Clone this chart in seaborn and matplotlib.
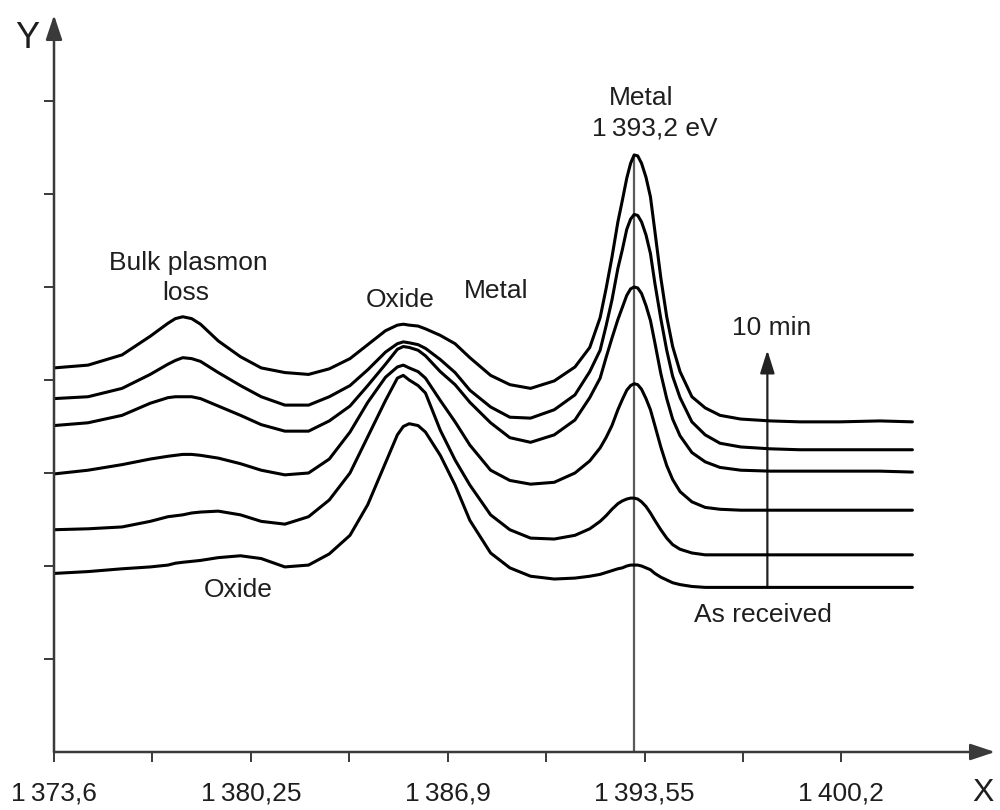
import matplotlib
matplotlib.use("Agg")
import matplotlib.pyplot as plt
import pandas as pd
import seaborn as sns

# Binding energy grid (eV) shared by all scans
energy = [1373.6, 1374.75, 1375.9, 1376.85, 1377.45, 1377.7, 1377.95, 1378.25, 1378.55, 1379.15,
          1379.9, 1380.6, 1381.4, 1382.2, 1382.9, 1383.6, 1384.2, 1384.8, 1385.2, 1385.4,
          1385.6, 1385.9, 1386.15, 1386.65, 1387.15, 1387.65, 1388.35, 1389.0, 1389.7, 1390.5,
          1391.2, 1391.7, 1392.05, 1392.25, 1392.45, 1392.65, 1392.8, 1392.95, 1393.08, 1393.2,
          1393.32, 1393.45, 1393.6, 1393.75, 1393.9, 1394.1, 1394.3, 1394.5, 1394.75, 1395.15,
          1395.6, 1396.1, 1396.8, 1397.8, 1398.8, 1400.15, 1401.5, 1402.6]

# Intensities (a.u., offset stack), from the 10 min sputtered scan down to the as-received one
scan_10min = [4.13, 4.16, 4.27, 4.47, 4.61, 4.66, 4.68, 4.66, 4.60, 4.42,
              4.25, 4.13, 4.08, 4.06, 4.12, 4.23, 4.38, 4.53, 4.59, 4.60,
              4.59, 4.58, 4.55, 4.48, 4.39, 4.24, 4.05, 3.95, 3.91, 3.99,
              4.14, 4.35, 4.67, 4.98, 5.32, 5.70, 5.93, 6.17, 6.33, 6.42,
              6.41, 6.33, 6.18, 5.97, 5.60, 5.10, 4.68, 4.36, 4.09, 3.82,
              3.70, 3.62, 3.58, 3.56, 3.55, 3.55, 3.56, 3.55]
scan_b = [3.80, 3.82, 3.91, 4.06, 4.17, 4.21, 4.24, 4.23, 4.20, 4.08,
          3.94, 3.82, 3.73, 3.73, 3.82, 3.94, 4.11, 4.30, 4.39, 4.41,
          4.40, 4.38, 4.34, 4.22, 4.08, 3.89, 3.71, 3.60, 3.59, 3.68,
          3.84, 4.09, 4.32, 4.58, 4.86, 5.20, 5.40, 5.62, 5.73, 5.78,
          5.77, 5.70, 5.56, 5.36, 5.04, 4.66, 4.32, 4.04, 3.81, 3.55,
          3.41, 3.32, 3.28, 3.26, 3.25, 3.25, 3.25, 3.25]
scan_c = [3.51, 3.54, 3.62, 3.75, 3.81, 3.82, 3.82, 3.82, 3.80, 3.72,
          3.62, 3.52, 3.45, 3.45, 3.56, 3.72, 3.94, 4.17, 4.33, 4.36,
          4.35, 4.32, 4.26, 4.09, 3.95, 3.76, 3.54, 3.38, 3.33, 3.41,
          3.57, 3.81, 4.02, 4.24, 4.45, 4.65, 4.78, 4.91, 4.98, 5.00,
          4.99, 4.93, 4.80, 4.64, 4.40, 4.07, 3.80, 3.58, 3.40, 3.22,
          3.12, 3.06, 3.03, 3.02, 3.02, 3.02, 3.02, 3.01]
scan_d = [2.99, 3.03, 3.09, 3.15, 3.18, 3.19, 3.20, 3.20, 3.19, 3.16,
          3.10, 3.03, 2.98, 3.00, 3.15, 3.44, 3.76, 4.03, 4.14, 4.16,
          4.13, 4.09, 4.02, 3.78, 3.55, 3.30, 3.03, 2.92, 2.88, 2.90,
          3.00, 3.13, 3.27, 3.38, 3.51, 3.68, 3.79, 3.89, 3.94, 3.96,
          3.95, 3.90, 3.80, 3.68, 3.51, 3.28, 3.08, 2.93, 2.80, 2.69,
          2.63, 2.61, 2.60, 2.60, 2.60, 2.60, 2.60, 2.60]
scan_e = [2.39, 2.40, 2.42, 2.48, 2.53, 2.54, 2.55, 2.57, 2.58, 2.59,
          2.55, 2.48, 2.45, 2.53, 2.71, 3.00, 3.39, 3.78, 4.02, 4.05,
          4.00, 3.94, 3.86, 3.46, 3.14, 2.87, 2.55, 2.39, 2.30, 2.29,
          2.33, 2.40, 2.48, 2.54, 2.61, 2.67, 2.70, 2.72, 2.73, 2.73,
          2.72, 2.69, 2.64, 2.57, 2.49, 2.39, 2.30, 2.23, 2.18, 2.14,
          2.12, 2.12, 2.12, 2.12, 2.12, 2.12, 2.12, 2.12]
scan_as_received = [1.92, 1.94, 1.97, 1.99, 2.01, 2.03, 2.04, 2.05, 2.06, 2.09,
                    2.11, 2.08, 1.99, 2.01, 2.13, 2.33, 2.66, 3.11, 3.41, 3.50,
                    3.53, 3.51, 3.44, 3.19, 2.87, 2.49, 2.14, 1.98, 1.89, 1.86,
                    1.87, 1.89, 1.91, 1.93, 1.95, 1.97, 1.98, 2.00, 2.01, 2.01,
                    2.01, 2.00, 1.98, 1.96, 1.92, 1.88, 1.85, 1.82, 1.80, 1.78,
                    1.77, 1.77, 1.77, 1.77, 1.77, 1.77, 1.77, 1.77]

scans = {"10 min": scan_10min, "b": scan_b, "c": scan_c, "d": scan_d,
         "e": scan_e, "as received": scan_as_received}

major_ticks = [1373.6, 1380.25, 1386.9, 1393.55, 1400.2]
major_labels = ["1\u2009373,6", "1\u2009380,25", "1\u2009386,9", "1\u2009393,55", "1\u2009400,2"]
minor_ticks = [1376.925, 1383.575, 1390.225, 1396.875]
y_ticks = [1, 2, 3, 4, 5, 6, 7]

metal_peak = 1393.2
arrow_x = 1397.7
arrow_top = 4.32

df = pd.concat([pd.DataFrame({"energy": energy, "intensity": v, "scan": k})
                for k, v in scans.items()], ignore_index=True)

sns.set_theme(style="white")
plt.rcParams["font.family"] = ["Liberation Sans", "DejaVu Sans"]

W, H = 1000, 810
fig = plt.figure(figsize=(W / 100, H / 100), dpi=100)
ax = fig.add_axes([54 / W, 58 / H, 941 / W, 737 / H])

axis_col = "#3a3a3a"
text_col = "#1e1e1e"

# reference line through the metal peak
ax.plot([metal_peak, metal_peak], [0, max(scan_10min)], color="#5a5a5a", lw=1.6, zorder=1)

sns.lineplot(data=df, x="energy", y="intensity", units="scan", estimator=None,
             sort=False, color="black", lw=2.2, legend=False, ax=ax, zorder=3)
for ln in ax.get_lines():
    ln.set_solid_joinstyle("round")

ax.set_xlim(1373.6, 1373.6 + 941 / 29.6)
ax.set_ylim(0, 737 / 93)
for s in ax.spines.values():
    s.set_visible(False)

ax.set_xticks(major_ticks)
ax.set_xticklabels(major_labels)
ax.set_xticks(minor_ticks, minor=True)
ax.set_yticks(y_ticks)
ax.set_yticklabels([])
ax.tick_params(axis="x", which="both", direction="out", length=7, width=1.4,
               color=axis_col, bottom=True, labelsize=19, labelcolor=text_col, pad=14)
ax.tick_params(axis="y", which="both", direction="out", length=7, width=1.4,
               color=axis_col, left=True)
ax.set_xlabel("")
ax.set_ylabel("")

# axis lines with arrow heads
arrow_style = "-|>,head_length=0.75,head_width=0.25"
ax.annotate("", xy=(0, 1), xytext=(0, 0), xycoords="axes fraction",
            arrowprops=dict(arrowstyle=arrow_style, mutation_scale=20, lw=1.8,
                            color=axis_col, shrinkA=0, shrinkB=0))
ax.annotate("", xy=(1, 0), xytext=(0, 0), xycoords="axes fraction",
            arrowprops=dict(arrowstyle=arrow_style, mutation_scale=20, lw=1.8,
                            color=axis_col, shrinkA=0, shrinkB=0))

# sputtering time arrow
ax.annotate("", xy=(arrow_x, arrow_top), xytext=(arrow_x, min(scan_as_received[-8:])),
            arrowprops=dict(arrowstyle="-|>,head_length=0.7,head_width=0.22",
                            mutation_scale=20, lw=1.6, color="#222222",
                            shrinkA=0, shrinkB=0), zorder=2)

fs = 19
ax.text(1378.15, 5.18, "Bulk plasmon", ha="center", va="baseline", fontsize=fs, color=text_col)
ax.text(1378.05, 4.86, "loss", ha="center", va="baseline", fontsize=fs, color=text_col)
ax.text(1385.29, 4.78, "Oxide", ha="center", va="baseline", fontsize=fs, color=text_col)
ax.text(1388.53, 4.88, "Metal", ha="center", va="baseline", fontsize=fs, color=text_col)
ax.text(1393.43, 6.96, "Metal", ha="center", va="baseline", fontsize=fs, color=text_col)
ax.text(1393.9, 6.63, "1\u2009393,2 eV", ha="center", va="baseline", fontsize=fs, color=text_col)
ax.text(1379.82, 1.67, "Oxide", ha="center", va="baseline", fontsize=fs, color=text_col)
ax.text(1397.86, 4.48, "10 min", ha="center", va="baseline", fontsize=fs, color=text_col)
ax.text(1397.55, 1.40, "As received", ha="center", va="baseline", fontsize=fs, color=text_col)

fig.text(27 / W, 1 - 38 / H, "Y", ha="center", va="center", fontsize=26, color=text_col)
fig.text(983 / W, 1 - 793 / H, "X", ha="center", va="center", fontsize=23, color=text_col)

fig.savefig("out.png", dpi=100, facecolor="white")
